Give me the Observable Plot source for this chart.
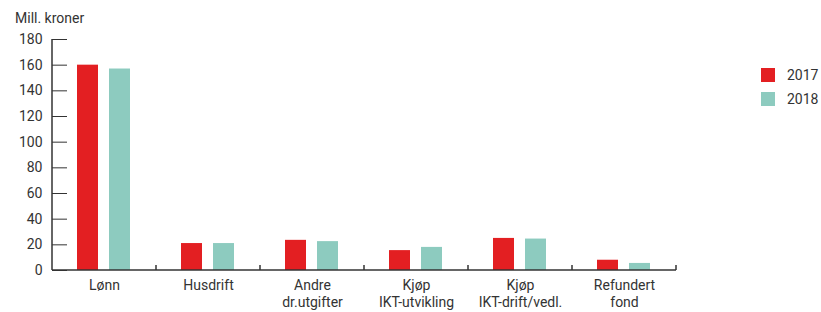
<!DOCTYPE html>
<html><head><meta charset="utf-8">
<script src="https://cdn.jsdelivr.net/npm/d3@7"></script>
<script src="https://cdn.jsdelivr.net/npm/@observablehq/plot@0.6"></script>
<style>
body{margin:0;background:#fff;font-family:Roboto,sans-serif;}
#wrap{position:relative;width:821px;height:312px;}
#ylabel{position:absolute;left:15px;top:10px;font-size:14px;color:#333;}
#legend{position:absolute;left:761px;top:68px;font-size:14px;color:#333;}
.item{display:flex;align-items:center;height:14px;margin-bottom:10px;}
.sw{width:14px;height:14px;margin-right:12px;}
</style></head><body>
<div id="wrap"><div id="ylabel">Mill. kroner</div><div id="legend"></div></div>
<script>
const categories = ["Lønn","Husdrift","Andre\ndr.utgifter","Kjøp\nIKT-utvikling","Kjøp\nIKT-drift/vedl.","Refundert\nfond"];
const years = ["2017","2018"];
const values2017 = [160,21,23.5,15.5,25,8];
const values2018 = [157,21,22.5,18,24.5,5.5];
const yTicks = [0,20,40,60,80,100,120,140,160,180];
const colors = ["#e31f22","#8dcbbf"];

const data = [];
categories.forEach((c,i)=>{
  data.push({cat:c, year:years[0], value:values2017[i]});
  data.push({cat:c, year:years[1], value:values2018[i]});
});

const plot = Plot.plot({
  width:821, height:312,
  marginLeft:50, marginRight:144, marginTop:39, marginBottom:42,
  style:{fontSize:"14px", fontFamily:"Roboto, sans-serif", color:"#333"},
  fx:{domain:categories, padding:0, label:null, axis:null},
  x:{domain:years, paddingInner:0.338, paddingOuter:0.77, axis:null},
  y:{domain:[0,180], axis:null},
  color:{domain:years, range:colors},
  marks:[
    Plot.barY(data,{fx:"cat", x:"year", y:"value", fill:"year"}),
    Plot.axisY({ticks:yTicks, tickSize:-15, tickPadding:25, label:null, stroke:"#333"}),
    Plot.axisFx({anchor:"bottom", tickSize:0, tickPadding:8, label:null, fill:"#333", lineHeight:1.2})
  ]
});
const wrap = document.getElementById("wrap");
wrap.prepend(plot);

// axis lines and category boundary ticks from the library's scales
const svg = d3.select(plot);
const fx = plot.scale("fx"), y = plot.scale("y");
const y0 = y.apply(0), yTop = y.apply(180);
const bw = fx.bandwidth;
const x0 = fx.apply(categories[0]);
const x1 = fx.apply(categories[categories.length-1]) + bw;
const g = svg.append("g").attr("stroke","#333").attr("stroke-width",1.5);
g.append("line").attr("x1",x0).attr("x2",x1).attr("y1",y0).attr("y2",y0);
g.append("line").attr("x1",x0).attr("x2",x0).attr("y1",y0).attr("y2",yTop);
categories.forEach(c=>{
  const xb = fx.apply(c)+bw;
  g.append("line").attr("x1",xb).attr("x2",xb).attr("y1",y0).attr("y2",y0-5);
});

const leg = document.getElementById("legend");
years.forEach((yr,i)=>{
  const d = document.createElement("div"); d.className="item";
  d.innerHTML = `<div class="sw" style="background:${colors[i]}"></div><span>${yr}</span>`;
  leg.appendChild(d);
});
</script></body></html>
